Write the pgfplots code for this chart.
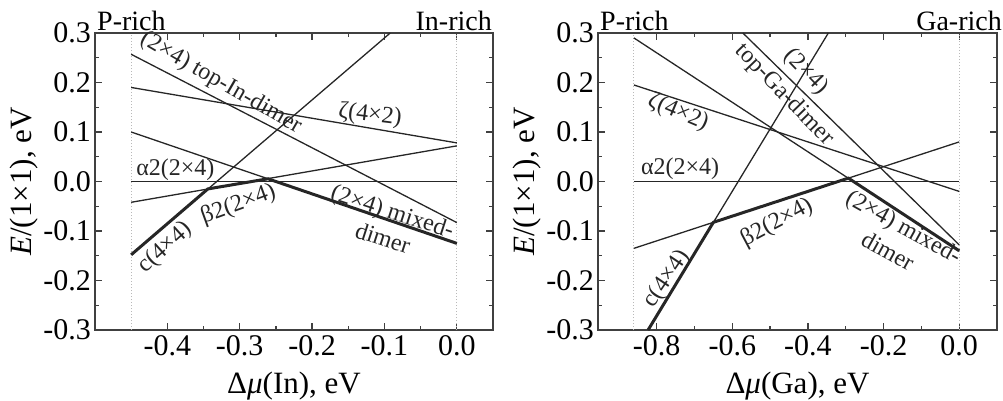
\documentclass[border=0pt]{standalone}
\usepackage{pgfplots}
\pgfplotsset{compat=1.18}
\usepackage{fontspec}
\setmainfont{Liberation Serif}

\pgfplotsset{
  panel/.style={
    scale only axis, height=297pt,
    ymin=-0.3, ymax=0.3,
    ytick={-0.3,-0.2,-0.1,0,0.1,0.2,0.3},
    minor y tick num=1, minor x tick num=1,
    tick align=inside, major tick length=7pt, minor tick length=4pt,
    axis line style={line width=1.4pt, black!75},
    every tick/.style={line width=1.2pt, black!75},
    tick label style={font=\fontsize{30}{30}\selectfont},
    xticklabel style={yshift=-2pt},
    yticklabel style={inner sep=1pt, xshift=-3pt},
    /pgf/number format/fixed, /pgf/number format/fixed zerofill,
    /pgf/number format/precision=1, /pgf/number format/assume math mode=true,
    every axis y label/.style={at={(axis description cs:-0.178,0.5)}, anchor=center, rotate=90, font=\fontsize{31}{31}\selectfont},
    every axis x label/.style={at={(axis description cs:0.5,0)}, anchor=center, yshift=-56pt, font=\fontsize{31}{31}\selectfont},
    ylabel={\textit{E}/(1×1), eV},
    clip=false,
  },
}
\tikzset{
  ln/.style={black!85, solid, line width=1.3pt, mark=none},
  guide/.style={gray!55, dotted, line width=1pt, mark=none},
  envelope/.style={line width=3pt, black!85, mark=none},
  lab/.style={font=\fontsize{24}{24}\selectfont, inner sep=0pt, text=black!85},
  rich/.style={font=\fontsize{28}{28}\selectfont, inner sep=0pt},
}

\begin{document}
\begin{tikzpicture}
% InP
\begin{axis}[panel, at={(95pt,70pt)}, anchor=south west, width=398pt,
  xmin=-0.5, xmax=0.05, xtick={-0.4,-0.3,-0.2,-0.1,0},
  xlabel={Δ\textit{μ}(In), eV}]
  \addplot[guide] coordinates {(-0.45,-0.3) (-0.45,0.3)};
  \addplot[guide] coordinates {(0,-0.3) (0,0.3)};
  \addplot[ln] coordinates {(-0.45,0) (0,0)};                 % alpha2
  \addplot[ln] coordinates {(-0.45,0.19) (0,0.078)};          % zeta
  \addplot[ln] coordinates {(-0.45,0.257) (0,-0.083)};        % top-In-dimer
  \addplot[ln] coordinates {(-0.45,0.1) (0,-0.125)};          % mixed-dimer
  \addplot[ln] coordinates {(-0.45,-0.042) (0,0.072)};        % beta2
  \addplot[ln] coordinates {(-0.45,-0.148) (-0.092,0.3)};     % c(4x4)
  \addplot[envelope] coordinates {(-0.45,-0.148) (-0.344,-0.015) (-0.261,0.0055) (0,-0.125)};
  \node[lab, rotate=-30] at (axis cs:-0.326,0.199) {(2×4) top-In-dimer};
  \node[lab, rotate=-7] at (axis cs:-0.120,0.134) {ζ(4×2)};
  \node[lab] at (axis cs:-0.389,0.023) {α2(2×4)};
  \node[lab, rotate=20] at (axis cs:-0.302,-0.047) {β2(2×4)};
  \node[lab, rotate=42] at (axis cs:-0.403,-0.134) {c(4×4)};
  \node[lab, rotate=-18] at (axis cs:-0.0895,-0.064) {(2×4) mixed-};
  \node[lab, rotate=-18] at (axis cs:-0.102,-0.114) {dimer};
  \node[rich, anchor=base west, xshift=2pt, yshift=3pt] at (rel axis cs:0,1) {P-rich};
  \node[rich, anchor=base east, xshift=-1pt, yshift=3pt] at (rel axis cs:1,1) {In-rich};
\end{axis}
% GaP
\begin{axis}[panel, at={(598pt,70pt)}, anchor=south west, width=399pt,
  xmin=-0.955, xmax=0.1, xtick={-0.8,-0.6,-0.4,-0.2,0},
  xlabel={Δ\textit{μ}(Ga), eV}]
  \addplot[guide] coordinates {(-0.86,-0.3) (-0.86,0.3)};
  \addplot[guide] coordinates {(0,-0.3) (0,0.3)};
  \addplot[ln] coordinates {(-0.86,0) (0,0)};                 % alpha2
  \addplot[ln] coordinates {(-0.86,0.195) (0,-0.02)};         % zeta
  \addplot[ln] coordinates {(-0.572,0.3) (0,-0.128)};         % top-Ga-dimer
  \addplot[ln] coordinates {(-0.86,0.29) (0,-0.14)};          % mixed-dimer
  \addplot[ln] coordinates {(-0.86,-0.135) (0,0.08)};         % beta2
  \addplot[ln] coordinates {(-0.8226,-0.3) (-0.346,0.3)};     % c(4x4)
  \addplot[envelope] coordinates {(-0.8226,-0.3) (-0.65,-0.0825) (-0.293,0.0068) (0,-0.14)};
  \node[lab, rotate=-46] at (axis cs:-0.405,0.222) {(2×4)};
  \node[lab, rotate=-46] at (axis cs:-0.462,0.175) {top-Ga-dimer};
  \node[lab, rotate=-23] at (axis cs:-0.743,0.140) {ζ(4×2)};
  \node[lab] at (axis cs:-0.738,0.026) {α2(2×4)};
  \node[lab, rotate=28] at (axis cs:-0.482,-0.083) {β2(2×4)};
  \node[lab, rotate=56] at (axis cs:-0.773,-0.197) {c(4×4)};
  \node[lab, rotate=-29] at (axis cs:-0.149,-0.094) {(2×4) mixed-};
  \node[lab, rotate=-29] at (axis cs:-0.188,-0.140) {dimer};
  \node[rich, anchor=base west, xshift=2pt, yshift=3pt] at (rel axis cs:0,1) {P-rich};
  \node[rich, anchor=base east, xshift=5pt, yshift=3pt] at (rel axis cs:1,1) {Ga-rich};
\end{axis}
\pgfresetboundingbox
\path[use as bounding box] (0,0) rectangle (1003pt,400pt);
\end{tikzpicture}
\end{document}
